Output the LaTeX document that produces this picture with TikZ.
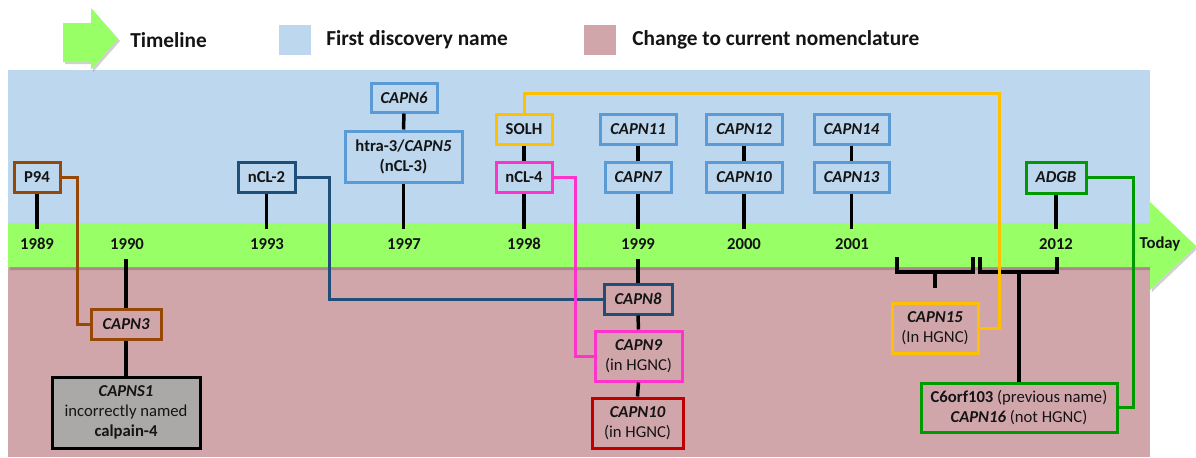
\documentclass[tikz,border=0pt]{standalone}
\usepackage{fontspec}
\setmainfont{Carlito}
\definecolor{bgblue}{RGB}{189,215,238}
\definecolor{bgpink}{RGB}{209,166,171}
\definecolor{band}{RGB}{153,255,102}
\definecolor{lblue}{RGB}{91,155,213}
\definecolor{dblue}{RGB}{31,78,121}
\definecolor{cbrown}{RGB}{151,72,6}
\definecolor{corange}{RGB}{255,192,0}
\definecolor{cmag}{RGB}{255,51,204}
\definecolor{cred}{RGB}{192,0,0}
\definecolor{cgreen}{RGB}{0,153,0}
\definecolor{cgray}{RGB}{171,168,168}
\definecolor{txt}{RGB}{20,20,20}
\begin{document}
\begin{tikzpicture}[x=0.75pt,y=-0.75pt,
  every node/.style={font=\fontsize{12.5}{15}\selectfont\bfseries, text=txt, inner sep=0pt},
  box/.style 2 args={draw, line width=2.25pt, minimum width=#1*0.75pt, minimum height=#2*0.75pt, align=center},
  stem/.style={line width=2.6pt, draw=black},
  conn/.style={line width=2.25pt},
  lg/.style={font=\fontsize{16}{18}\selectfont\bfseries, anchor=west}]
\useasboundingbox (0,0) rectangle (1196,457);
% backgrounds
\fill[bgblue] (8,70) rectangle (1150,224);
\fill[bgpink] (8,266) rectangle (1150,457);
\fill[black,opacity=0.18] (10,226) -- (1152,226) -- (1152,205) -- (1198,248) -- (1152,292) -- (1152,270) -- (10,270) -- cycle;
\fill[band] (8,223) -- (1150,223) -- (1150,202) -- (1196,246) -- (1150,290) -- (1150,267) -- (8,267) -- cycle;
% legend
\fill[black,opacity=0.18] (65,25) -- (93,25) -- (93,10) -- (120,41) -- (93,72) -- (93,64) -- (65,64) -- cycle;
\fill[band] (63,23) -- (91,23) -- (91,8) -- (118,39) -- (91,70) -- (91,62) -- (63,62) -- cycle;
\node[lg] (lgt) at (130,40) {Timeline};
\fill[bgblue] (279,25) rectangle (311,55);
\node[lg] (lgb) at (326,40) {First discovery name};
\fill[bgpink] (584,25) rectangle (616,55);
\node[lg] (lgp) at (632,40) {Change to current nomenclature};
% helper coordinates
\coordinate (bt) at (0,229);
\coordinate (bb) at (0,259);
% year labels
\node (y1989) at (37,244) {1989};
\node (y1990) at (127,244) {1990};
\node (y1993) at (267,244) {1993};
\node (y1997) at (404,244) {1997};
\node (y1998) at (524,244) {1998};
\node (y1999) at (638,244) {1999};
\node (y2000) at (744,244) {2000};
\node (y2001) at (852,244) {2001};
\node (y2012) at (1056,244) {2012};
\node (today) at (1160,244) {Today};
% top boxes
\node[box={46}{30}, draw=cbrown] (P94) at (37,177) {P94};
\node[box={57}{30}, draw=dblue] (nCL2) at (266.5,177) {nCL-2};
\node[box={66}{29}, draw=lblue] (CAPN6) at (404,97.5) {\itshape CAPN6};
\node[box={117}{51}, draw=lblue] (CAPN5) at (403.5,156.5) {htra-3/\textit{CAPN5}\\(nCL-3)};
\node[box={56}{30}, draw=corange] (SOLH) at (524,129) {SOLH};
\node[box={56}{30}, draw=cmag] (nCL4) at (524,177) {nCL-4};
\node[box={76}{30}, draw=lblue] (CAPN11) at (638,129) {\itshape CAPN11};
\node[box={66}{30}, draw=lblue] (CAPN7) at (638,177) {\itshape CAPN7};
\node[box={76}{30}, draw=lblue] (CAPN12) at (744,129) {\itshape CAPN12};
\node[box={76}{30}, draw=lblue] (CAPN10t) at (744,177) {\itshape CAPN10};
\node[box={75}{30}, draw=lblue] (CAPN14) at (851.5,129) {\itshape CAPN14};
\node[box={75}{30}, draw=lblue] (CAPN13) at (851.5,177) {\itshape CAPN13};
\node[box={60}{31}, draw=cgreen] (ADGB) at (1056,177.5) {\itshape ADGB};
% bottom boxes
\node[box={70}{30}, draw=cbrown] (CAPN3) at (126,324) {\itshape CAPN3};
\node[box={148}{71}, draw=black, fill=cgray] (CAPNS1) at (126,412.5) {\itshape CAPNS1\\\mdseries incorrectly named\\calpain-4};
\node[box={68}{30}, draw=dblue] (CAPN8) at (638,299) {\itshape CAPN8};
\node[box={87}{50}, draw=cmag] (CAPN9) at (638.5,356) {\itshape CAPN9\\\mdseries\upshape (in HGNC)};
\node[box={91}{50}, draw=cred] (CAPN10b) at (637.5,423) {\itshape CAPN10\\\mdseries\upshape (in HGNC)};
\node[box={86}{50}, draw=corange] (CAPN15) at (935,328) {\itshape CAPN15\\\mdseries\upshape (In HGNC)};
\node[box={196}{49}, draw=cgreen] (C6) at (1019,407.5) {C6orf103 \mdseries(previous name)\\\textit{CAPN16} \mdseries(not HGNC)};
% stems above band
\draw[stem] (P94.south) -- (P94.south |- bt);
\draw[stem] (nCL2.south) -- (nCL2.south |- bt);
\draw[stem] (CAPN6.south) -- (CAPN5.north);
\draw[stem] (CAPN5.south) -- (CAPN5.south |- bt);
\draw[stem] (SOLH.south) -- (nCL4.north);
\draw[stem] (nCL4.south) -- (nCL4.south |- bt);
\draw[stem] (CAPN11.south) -- (CAPN7.north);
\draw[stem] (CAPN7.south) -- (CAPN7.south |- bt);
\draw[stem] (CAPN12.south) -- (CAPN10t.north);
\draw[stem] (CAPN10t.south) -- (CAPN10t.south |- bt);
\draw[stem] (CAPN14.south) -- (CAPN13.north);
\draw[stem] (CAPN13.south) -- (CAPN13.south |- bt);
\draw[stem] (ADGB.south) -- (ADGB.south |- bt);
% stems below band
\draw[stem] (CAPN3.north |- bb) -- (CAPN3.north);
\draw[stem] (CAPN3.south) -- (CAPNS1.north);
\draw[stem] (CAPN8.north |- bb) -- (CAPN8.north);
\draw[stem] (CAPN8.south) -- (CAPN9.north);
\draw[stem] (CAPN9.south) -- (CAPN10b.north);
% brackets
\coordinate (lb1) at (897,257);
\coordinate (lb2) at (973,257);
\coordinate (lbs) at (935,272);
\coordinate (lbe) at (935,288);
\coordinate (rb1) at (980,257);
\coordinate (rb2) at (1057,257);
\coordinate (rbs) at (1018,272);
\draw[stem] (lb1) |- (lbs) -| (lb2);
\draw[stem] (lbs) -- (lbe);
\draw[stem] (rb1) |- (rbs) -| (rb2);
\draw[stem] (rbs) -- (rbs -| C6.north) -- (C6.north);
% coloured connectors
\coordinate (brc) at (77,250);
\coordinate (dbc) at (329,250);
\coordinate (mgc) at (575,250);
\coordinate (orc) at (999,93);
\coordinate (grc) at (1133,250);
\draw[conn, cbrown] (P94.east) -| (brc) |- (CAPN3.west);
\draw[conn, dblue] (nCL2.east) -| (dbc) |- (CAPN8.west);
\draw[conn, cmag] (nCL4.east) -| (mgc) |- (CAPN9.west);
\draw[conn, corange] (SOLH.north) |- (orc) |- (CAPN15.east);
\draw[conn, cgreen] (ADGB.east) -| (grc) |- (C6.east);
\end{tikzpicture}
\end{document}
